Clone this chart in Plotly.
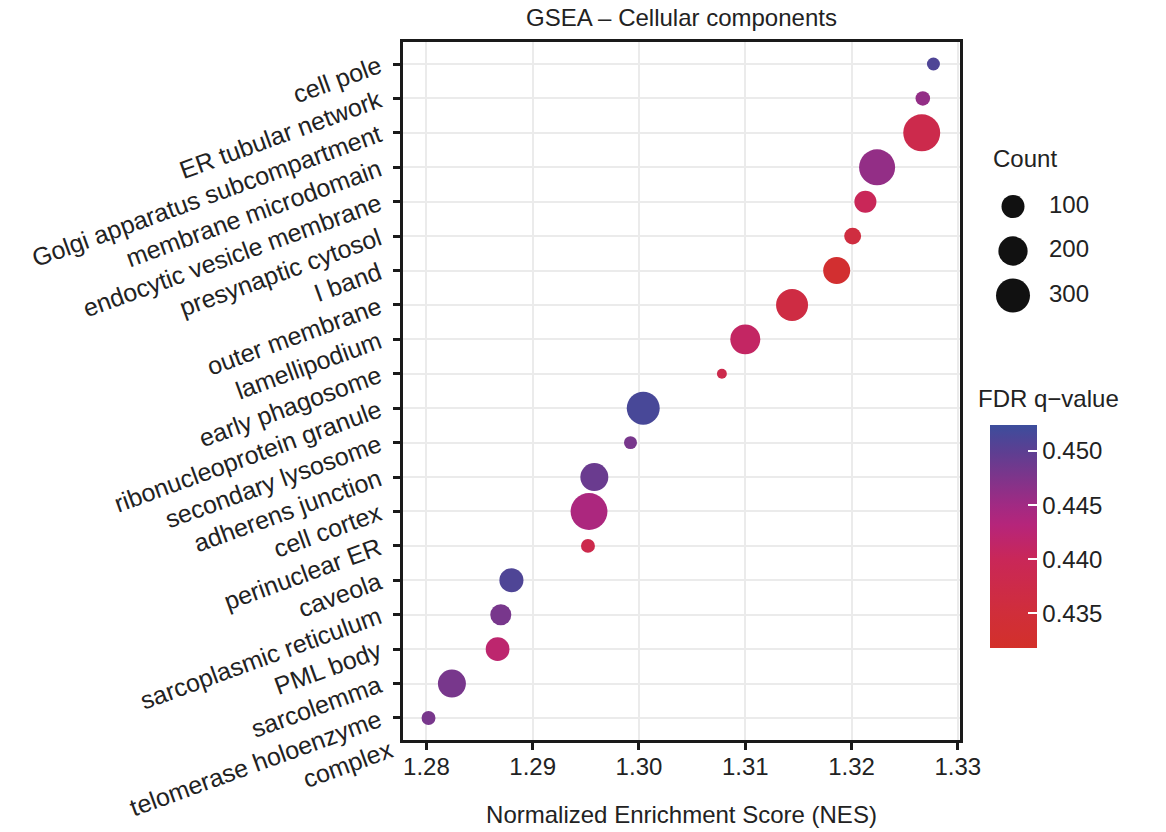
import numpy as np
import plotly.graph_objects as go

# ---------------- data (top to bottom as in the chart) ----------------
terms = [
    "cell pole", "ER tubular network", "Golgi apparatus subcompartment",
    "membrane microdomain", "endocytic vesicle membrane", "presynaptic cytosol",
    "I band", "outer membrane", "lamellipodium", "early phagosome",
    "ribonucleoprotein granule", "secondary lysosome", "adherens junction",
    "cell cortex", "perinuclear ER", "caveola", "sarcoplasmic reticulum",
    "PML body", "sarcolemma", "telomerase holoenzyme complex",
]
term_labels = [
    "cell pole", "ER tubular network", "Golgi apparatus subcompartment",
    "membrane microdomain", "endocytic vesicle membrane", "presynaptic cytosol",
    "I band", "outer membrane", "lamellipodium", "early phagosome",
    "ribonucleoprotein granule", "secondary lysosome", "adherens junction",
    "cell cortex", "perinuclear ER", "caveola", "sarcoplasmic reticulum",
    "PML body", "sarcolemma", " <br>telomerase holoenzyme<br>complex",
]
nes = [1.3277, 1.3267, 1.3266, 1.3224, 1.3213, 1.3201, 1.3186, 1.3144,
       1.3100, 1.3078, 1.3004, 1.2992, 1.2958, 1.2953, 1.2952, 1.2880,
       1.2870, 1.2867, 1.2824, 1.2802]
counts = [16, 23, 374, 349, 88, 38, 160, 255, 214, 9, 277, 16, 177, 370,
          20, 114, 76, 110, 177, 20]
fdr = [0.4510, 0.4460, 0.4380, 0.4460, 0.4400, 0.4360, 0.4330, 0.4365,
       0.4410, 0.4380, 0.4515, 0.4480, 0.4490, 0.4440, 0.4380, 0.4510,
       0.4480, 0.4420, 0.4480, 0.4480]

legend_counts = [100, 200, 300]
legend_labels = ["100", "200", "300"]
x_ticks = [1.28, 1.29, 1.30, 1.31, 1.32, 1.33]
x_ticklabels = ["1.28", "1.29", "1.30", "1.31", "1.32", "1.33"]
cb_ticks = [0.435, 0.440, 0.445, 0.450]
cb_ticklabels = ["0.435", "0.440", "0.445", "0.450"]

# ---------------- styling ----------------
W, H = 1166, 832
ML, MR, MT, MB = 403, 40, 42, 92
PW = W - ML - MR          # paper width
PH = H - MT - MB          # paper height
PLOT_RIGHT = 960

def px_x(p):
    return (p - ML) / PW

def px_y(p):
    return (H - MB - p) / PH

def size_of(c):
    c = np.asarray(c, dtype=float)
    return 9 + 1.464 * np.sqrt(np.clip(c - 8.6, 0, None))

colorscale = [
    [0.000, "#D3302A"],
    [0.155, "#D02E3A"],
    [0.398, "#C92758"],
    [0.550, "#B6257A"],
    [0.641, "#A12A83"],
    [0.883, "#5C3F92"],
    [1.000, "#3C4D9C"],
]
cmin, cmax = 0.4318, 0.4524
FONT = "Liberation Sans, Arial, Helvetica, sans-serif"
TXT = "#222222"
FS_Y = 25
FS = 24

cats_bottom_up = terms[::-1]

fig = go.Figure()

fig.add_trace(go.Scatter(
    x=nes, y=terms, mode="markers",
    marker=dict(
        size=size_of(counts), sizemode="diameter",
        color=fdr, colorscale=colorscale, cmin=cmin, cmax=cmax,
        line=dict(width=0), opacity=1,
        colorbar=dict(
            x=px_x(990), xanchor="left", xpad=0,
            y=px_y(536.5), yanchor="middle",
            len=223, lenmode="pixels", thickness=47, thicknessmode="pixels",
            outlinewidth=0,
            tickvals=cb_ticks, ticktext=cb_ticklabels,
            ticks="inside", ticklen=9, tickwidth=1.5, tickcolor="white",
            tickfont=dict(size=FS, color=TXT, family=FONT),
            ypad=0,
        ),
    ),
    showlegend=False, hoverinfo="x+y",
))

# size legend on auxiliary axes
fig.add_trace(go.Scatter(
    x=[0] * len(legend_counts), y=list(range(len(legend_counts))),
    mode="markers",
    marker=dict(size=size_of(legend_counts), sizemode="diameter",
                color="#111111", line=dict(width=0), opacity=1),
    xaxis="x2", yaxis="y2", showlegend=False, hoverinfo="skip",
))
fig.add_trace(go.Scatter(
    x=[36] * len(legend_counts), y=list(range(len(legend_counts))),
    mode="text", text=legend_labels, textposition="middle right",
    textfont=dict(size=FS, color=TXT, family=FONT),
    xaxis="x2", yaxis="y2", showlegend=False, hoverinfo="skip",
))

fig.update_layout(
    width=W, height=H,
    margin=dict(l=ML, r=MR, t=MT, b=MB),
    paper_bgcolor="white", plot_bgcolor="white",
    font=dict(family=FONT, color=TXT),
    title=dict(text="GSEA \u2013 Cellular components", x=0.5 * px_x(PLOT_RIGHT),
               xref="paper", xanchor="center",
               y=1 - 18 / H, yanchor="middle", yref="container",
               font=dict(size=FS, color=TXT, family=FONT)),
    xaxis=dict(
        domain=[0, px_x(PLOT_RIGHT)], range=[1.2778, 1.3302],
        tickvals=x_ticks, ticktext=x_ticklabels,
        ticks="outside", ticklen=7, tickwidth=2.5, tickcolor="#1a1a1a",
        tickfont=dict(size=FS, color=TXT, family=FONT),
        ticklabelstandoff=-4,
        showgrid=True, gridcolor="#EBEBEB", gridwidth=1.5,
        showline=True, linecolor="#1a1a1a", linewidth=3, mirror=True,
        zeroline=False, automargin=False,
        title=dict(text="Normalized Enrichment Score (NES)",
                   font=dict(size=FS, color=TXT, family=FONT), standoff=28),
    ),
    yaxis=dict(
        type="category", categoryorder="array", categoryarray=cats_bottom_up,
        tickvals=terms, ticktext=term_labels,
        range=[-0.64, len(terms) - 1 + 0.64],
        ticks="outside", ticklen=7, tickwidth=2.5, tickcolor="#1a1a1a",
        tickangle=-20, ticklabelstandoff=9,
        tickfont=dict(size=FS_Y, color=TXT, family=FONT),
        showgrid=True, gridcolor="#EBEBEB", gridwidth=1.5,
        showline=True, linecolor="#1a1a1a", linewidth=3, mirror=True,
        zeroline=False, automargin=False,
    ),
    xaxis2=dict(domain=[px_x(990), px_x(1120)], range=[-23, 107],
                anchor="y2", visible=False, fixedrange=True),
    yaxis2=dict(domain=[px_y(317.75), px_y(184.25)], range=[2.5, -0.5],
                anchor="x2", visible=False, fixedrange=True),
    annotations=[
        dict(text="Count", x=px_x(991), y=px_y(158), xref="paper", yref="paper",
             xanchor="left", yanchor="middle", showarrow=False,
             font=dict(size=FS, color=TXT, family=FONT)),
        dict(text="FDR q\u2212value", x=px_x(976), y=px_y(398), xref="paper", yref="paper",
             xanchor="left", yanchor="middle", showarrow=False,
             font=dict(size=FS, color=TXT, family=FONT)),
    ],
)

fig.write_html("out.html", post_script="document.body.style.margin='0';",
               config={"displayModeBar": False})
